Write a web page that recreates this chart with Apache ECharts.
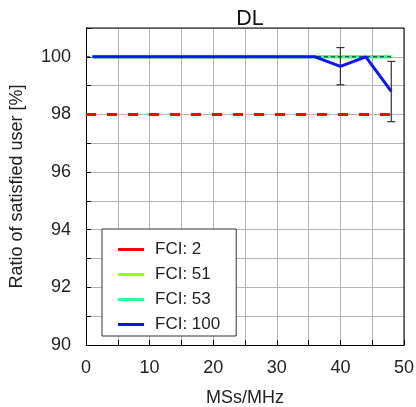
<!DOCTYPE html>
<html><head><meta charset="utf-8">
<script src="https://cdn.jsdelivr.net/npm/echarts@6/dist/echarts.min.js"></script>
<style>html,body{margin:0;padding:0;background:#fff}#c{width:416px;height:407px}</style>
</head><body><div id="c"></div>
<script>
var xs = [1,4,8,12,16,20,24,28,32,36,40,44,48];
var fci2 = [98,98,98,98,98,98,98,98,98,98,98,98,98];
var fci51 = [100,100,100,100,100,100,100,100,100,100,100,100,100];
var fci53 = [100,100,100,100,100,100,100,100,100,100,100,100,100];
var fci100 = [100,100,100,100,100,100,100,100,100,100,99.67,100,98.8];
var refX = [0,48];
var refY = [100,100];
var redX = [0,48];
var redY = [98,98];
var errX = [40,48];
var errLow = [99.03,97.75];
var errHigh = [100.32,99.84];

function pairs(x,y){return x.map(function(v,i){return [v,y[i]];});}
var FONT = 'Liberation Sans';
var FS = 18;
var chart = echarts.init(document.getElementById('c'));
chart.setOption({
  animation:false,
  textStyle:{fontFamily:FONT},
  title:{text:'DL',left:245,top:3,textAlign:'center',textStyle:{fontFamily:FONT,fontSize:21.5,fontWeight:'normal',color:'#111'}},
  grid:{left:86,right:12,top:28,bottom:62,containLabel:false,outerBoundsMode:'none'},
  legend:{
    left:102, top:229, orient:'vertical',
    backgroundColor:'#fff', borderColor:'#333', borderWidth:1,
    padding:[12,16,3,16], itemGap:8, itemWidth:26, itemHeight:3, icon:'rect',
    textStyle:{fontFamily:FONT,fontSize:17,lineHeight:16,color:'#222',padding:[0,0,0,6]},
    data:['FCI: 2','FCI: 51','FCI: 53','FCI: 100']
  },
  xAxis:{
    type:'value',min:0,max:50,interval:10,
    axisLine:{show:true,onZero:false,lineStyle:{color:'#000',width:1}},
    axisTick:{inside:true,length:5,lineStyle:{color:'#000'}},
    minorTick:{show:true,splitNumber:2,length:5,lineStyle:{color:'#000'}},
    splitLine:{show:true,lineStyle:{color:'#b4b4b4',width:1}},
    minorSplitLine:{show:true,lineStyle:{color:'#b4b4b4',width:1}},
    axisLabel:{fontFamily:FONT,fontSize:FS,color:'#222',margin:14},
    name:'MSs/MHz',nameLocation:'middle',nameGap:44,
    nameTextStyle:{fontFamily:FONT,fontSize:FS,color:'#222'}
  },
  yAxis:{
    type:'value',min:90,max:101,interval:2,
    axisLine:{show:true,onZero:false,lineStyle:{color:'#000',width:1}},
    axisTick:{inside:true,length:5,lineStyle:{color:'#000'}},
    minorTick:{show:true,splitNumber:2,length:5,lineStyle:{color:'#000'}},
    splitLine:{show:true,lineStyle:{color:'#b4b4b4',width:1}},
    minorSplitLine:{show:true,lineStyle:{color:'#b4b4b4',width:1}},
    axisLabel:{fontFamily:FONT,fontSize:FS,color:'#222',margin:15,
      formatter:function(v){return v>100?'':String(v);}},
    name:'Ratio of satisfied user [%]',nameLocation:'middle',nameGap:60,
    nameTextStyle:{fontFamily:FONT,fontSize:FS,color:'#222'}
  },
  series:[
    {name:'FCI: 2',type:'line',data:pairs(redX,redY),symbol:'none',z:3,
      lineStyle:{color:'#ff0000',width:3,type:[10,11]},itemStyle:{color:'#ff0000'}},
    {name:'FCI: 51',type:'line',data:pairs(xs,fci51),symbol:'none',z:3,
      lineStyle:{color:'#99ff00',width:3},itemStyle:{color:'#99ff00'}},
    {name:'FCI: 53',type:'line',data:pairs(xs,fci53),symbol:'none',z:4,
      lineStyle:{color:'#22ff99',width:3},itemStyle:{color:'#22ff99'}},
    {name:'ref',type:'line',data:pairs(refX,refY),symbol:'none',z:5,silent:true,
      lineStyle:{color:'#111',width:1,type:[4,3]}},
    {name:'FCI: 100',type:'line',data:pairs(xs,fci100),symbol:'none',z:6,
      lineStyle:{color:'#0a14ff',width:3},itemStyle:{color:'#0a14ff'}},
    {name:'err',type:'custom',z:7,silent:true,
      data:errX.map(function(x,i){return [x,errLow[i],errHigh[i]];}),
      encode:{x:0,y:[1,2]},
      renderItem:function(params,api){
        var lo=api.coord([api.value(0),api.value(1)]);
        var hi=api.coord([api.value(0),api.value(2)]);
        var w=4;
        var st={stroke:'#333',lineWidth:1.2};
        return {type:'group',children:[
          {type:'line',shape:{x1:lo[0],y1:lo[1],x2:hi[0],y2:hi[1]},style:st},
          {type:'line',shape:{x1:lo[0]-w,y1:lo[1],x2:lo[0]+w,y2:lo[1]},style:st},
          {type:'line',shape:{x1:hi[0]-w,y1:hi[1],x2:hi[0]+w,y2:hi[1]},style:st}
        ]};
      }}
  ],
  graphic:[
    {type:'line',shape:{x1:86,y1:28,x2:404,y2:28},style:{stroke:'#000',lineWidth:1},z:10},
    {type:'line',shape:{x1:404,y1:28,x2:404,y2:345},style:{stroke:'#000',lineWidth:1},z:10}
  ]
});
</script></body></html>
